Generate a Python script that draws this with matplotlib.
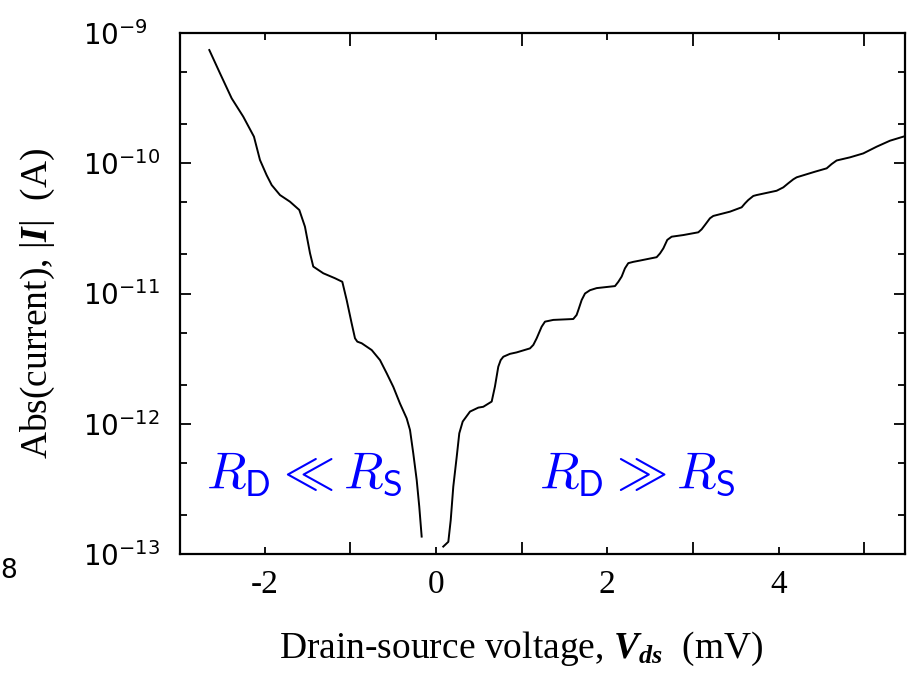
import matplotlib
matplotlib.use("Agg")
import matplotlib.pyplot as plt
from matplotlib.ticker import FixedLocator, NullFormatter

# left branch (negative bias)
v_neg = [-2.645, -2.520, -2.384, -2.249, -2.124, -2.054, -1.976, -1.917, -1.820, -1.704,
         -1.595, -1.529, -1.470, -1.432, -1.315, -1.179, -1.093, -1.042, -0.984, -0.945,
         -0.918, -0.867, -0.750, -0.653, -0.575, -0.498, -0.420, -0.342, -0.303, -0.265,
         -0.225, -0.195, -0.167]
i_neg = [7.4e-10, 4.9e-10, 3.15e-10, 2.28e-10, 1.60e-10, 1.06e-10, 8.1e-11, 6.8e-11, 5.7e-11, 5.07e-11,
         4.38e-11, 3.26e-11, 2.04e-11, 1.61e-11, 1.43e-11, 1.31e-11, 1.23e-11, 8.9e-12, 5.9e-12, 4.53e-12,
         4.27e-12, 4.15e-12, 3.68e-12, 3.08e-12, 2.44e-12, 1.92e-12, 1.43e-12, 1.10e-12, 8.95e-13, 5.93e-13,
         3.70e-13, 2.31e-13, 1.36e-13]

# right branch (positive bias)
v_pos = [0.085, 0.144, 0.172, 0.202, 0.242, 0.272, 0.312, 0.397, 0.494, 0.552,
         0.650, 0.688, 0.727, 0.755, 0.786, 0.863, 0.941, 1.097, 1.136, 1.175,
         1.233, 1.272, 1.369, 1.602, 1.641, 1.661, 1.700, 1.739, 1.797, 1.875,
         2.089, 2.128, 2.167, 2.205, 2.244, 2.303, 2.380, 2.575, 2.614, 2.653,
         2.699, 2.750, 2.886, 3.061, 3.100, 3.139, 3.197, 3.236, 3.431, 3.567,
         3.606, 3.644, 3.703, 3.742, 3.975, 4.053, 4.111, 4.170, 4.209, 4.422,
         4.559, 4.617, 4.675, 4.831, 4.986, 5.142, 5.298, 5.453]
i_pos = [1.14e-13, 1.24e-13, 1.82e-13, 3.29e-13, 5.58e-13, 8.45e-13, 1.04e-12, 1.24e-12, 1.33e-12, 1.35e-12,
         1.48e-12, 1.93e-12, 2.74e-12, 3.08e-12, 3.27e-12, 3.44e-12, 3.53e-12, 3.79e-12, 4.03e-12, 4.53e-12,
         5.56e-12, 6.08e-12, 6.27e-12, 6.37e-12, 6.84e-12, 7.46e-12, 8.91e-12, 1.00e-11, 1.06e-11, 1.10e-11,
         1.14e-11, 1.23e-11, 1.35e-11, 1.56e-11, 1.71e-11, 1.75e-11, 1.79e-11, 1.90e-11, 2.03e-11, 2.22e-11,
         2.58e-11, 2.73e-11, 2.81e-11, 2.95e-11, 3.11e-11, 3.36e-11, 3.78e-11, 3.94e-11, 4.25e-11, 4.59e-11,
         4.92e-11, 5.22e-11, 5.61e-11, 5.70e-11, 6.15e-11, 6.53e-11, 7.02e-11, 7.53e-11, 7.80e-11, 8.61e-11,
         9.14e-11, 9.86e-11, 1.05e-10, 1.11e-10, 1.19e-10, 1.34e-10, 1.49e-10, 1.60e-10]

x_ticks = [-2, 0, 2, 4]
x_minor = [-1, 1, 3, 5]
y_ticks = [1e-13, 1e-12, 1e-11, 1e-10, 1e-9]
y_labels = [r"$10^{-13}$", r"$10^{-12}$", r"$10^{-11}$", r"$10^{-10}$", r"$10^{-9}$"]
y_minor = [m * 10.0**e for e in range(-13, -9) for m in (2, 5)]

plt.rcParams["font.family"] = ["Liberation Serif", "DejaVu Serif"]
plt.rcParams["mathtext.fontset"] = "custom"
plt.rcParams["mathtext.rm"] = "Liberation Serif"
plt.rcParams["mathtext.it"] = "Liberation Serif:italic"
plt.rcParams["mathtext.bf"] = "Liberation Serif:bold"
plt.rcParams["mathtext.bfit"] = "Liberation Serif:italic:bold"

fig = plt.figure(figsize=(9.11, 6.73), dpi=100)
ax = fig.add_axes([180 / 911, 1 - 554 / 673, 725 / 911, 521 / 673])

ax.plot(v_neg, i_neg, color="black", linewidth=1.4)
ax.plot(v_pos, i_pos, color="black", linewidth=1.4)

ax.set_yscale("log")
ax.set_xlim(-2.987, 5.473)
ax.set_ylim(1e-13, 1e-9)

ax.set_xticks(x_ticks, [str(t) for t in x_ticks])
ax.xaxis.set_minor_locator(FixedLocator(x_minor))
ax.xaxis.set_minor_formatter(NullFormatter())
ax.set_yticks(y_ticks, y_labels, math_fontfamily="dejavusans", ha="left")
ax.yaxis.set_minor_locator(FixedLocator(y_minor))
ax.yaxis.set_minor_formatter(NullFormatter())

ax.tick_params(axis="x", which="major", direction="in", length=5, width=1.3,
               top=True, pad=11, labelsize=24)
ax.tick_params(axis="x", which="minor", direction="in", length=9, width=1.3, top=True)
ax.tick_params(axis="y", which="major", direction="in", length=8, width=1.3,
               right=True, pad=70, labelsize=20)
ax.tick_params(axis="y", which="minor", direction="in", length=5, width=1.3, right=True)
for s in ax.spines.values():
    s.set_linewidth(1.6)

ax.set_xlabel(r"Drain-source voltage, $\mathbfit{V}_{\mathbfit{ds}}$  (mV)", fontsize=27)
ax.xaxis.set_label_coords(0.47, -0.145)
ax.set_ylabel(r"Abs(current), |$\mathbfit{I}$|  (A)", fontsize=27)
ax.yaxis.set_label_coords(-0.17, 0.481)

ax.text(-1.534, 4.05e-13, r"$R_\mathsf{D} \ll R_\mathsf{S}$", color="blue",
        fontsize=37, ha="center", va="center", math_fontfamily="cm")
ax.text(2.351, 4.05e-13, r"$R_\mathsf{D} \gg R_\mathsf{S}$", color="blue",
        fontsize=37, ha="center", va="center", math_fontfamily="cm")

# stray glyph at the left edge of the scan
fig.text(0.0, 1 - 578 / 673, "8", fontsize=19, family="DejaVu Sans", ha="left")

fig.savefig("out.png", dpi=100, facecolor="white")
